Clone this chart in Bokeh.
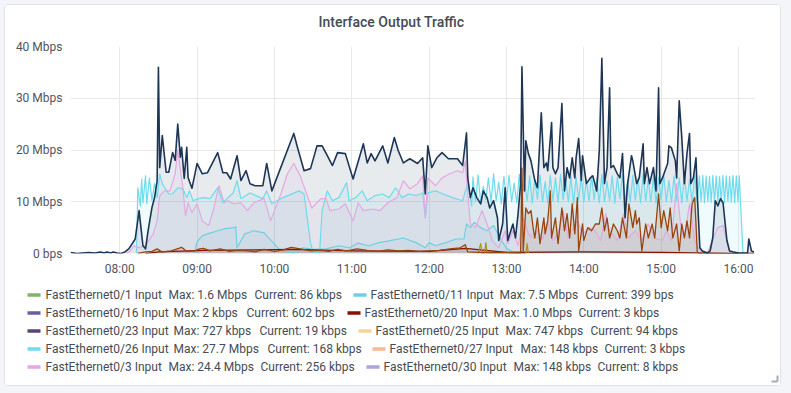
import pandas as pd
from bokeh.plotting import figure
from bokeh.models import (Range1d, FixedTicker, DatetimeTickFormatter, ColumnDataSource,
                          GlobalInlineStyleSheet)
from bokeh.layouts import column
from bokeh.core.properties import value
from bokeh.embed import file_html
from bokeh.resources import INLINE

# ---------------- data ----------------
DAY = "2024-05-06 "
TITLE = "Interface Output Traffic"
HOUR_TICKS = ["08:00", "09:00", "10:00", "11:00", "12:00", "13:00", "14:00", "15:00", "16:00"]
Y_TICKS = [0, 10, 20, 30, 40]
Y_TICK_LABELS = ["0 bps", "10 Mbps", "20 Mbps", "30 Mbps", "40 Mbps"]
X_START, X_END = "07:21:48", "16:12:24"

# dark navy series (total) - Mbps
NAVY = [("07:22", 0.2), ("07:27", 0.0), ("07:31", 0.1), ("07:36", 0.2), ("07:41", 0.1), ("07:45", 0.3),
        ("07:48", 0.1), ("07:50", 0.3), ("07:53", 0.1), ("07:55", 0.3), ("07:58", 0.1), ("08:01", 0.0),
        ("08:04", 0.3), ("08:07", 0.9), ("08:12", 2.8), ("08:15", 8.3), ("08:18", 1.5), ("08:20", 0.9),
        ("08:22", 4.4), ("08:25", 8.9), ("08:27", 10.8), ("08:29", 14.0), ("08:30", 36.0), ("08:31", 16.6),
        ("08:33", 22.8), ("08:36", 15.7), ("08:38", 15.7), ("08:41", 19.5), ("08:43", 18.0), ("08:45", 25.0),
        ("08:47", 18.6), ("08:48", 20.5), ("08:50", 14.5), ("08:52", 20.5), ("08:53", 14.7), ("08:56", 12.6),
        ("09:00", 17.4), ("09:04", 15.4), ("09:08", 15.6), ("09:16", 19.5), ("09:20", 15.6), ("09:23", 15.6),
        ("09:26", 14.4), ("09:31", 18.9), ("09:34", 14.1), ("09:38", 16.0), ("09:41", 13.5), ("09:45", 13.1),
        ("09:51", 13.1), ("09:54", 17.4), ("09:58", 12.1), ("10:15", 23.2), ("10:18", 20.4), ("10:23", 16.0),
        ("10:28", 16.4), ("10:33", 20.8), ("10:37", 20.8), ("10:41", 18.9), ("10:45", 17.0), ("10:49", 19.5),
        ("10:55", 19.3), ("11:01", 14.4), ("11:09", 21.2), ("11:12", 17.5), ("11:15", 19.3), ("11:18", 17.9),
        ("11:24", 20.8), ("11:28", 17.5), ("11:33", 22.4), ("11:36", 19.9), ("11:40", 17.5), ("11:45", 18.3),
        ("11:51", 17.4), ("11:55", 18.5), ("11:57", 11.5), ("11:59", 20.8), ("12:02", 16.6), ("12:06", 18.5),
        ("12:10", 19.5), ("12:15", 18.3), ("12:22", 18.3), ("12:26", 17.0), ("12:29", 23.3), ("12:30", 14.6),
        ("12:32", 10.8), ("12:34", 12.7), ("12:37", 10.8), ("12:40", 9.6), ("12:42", 12.1), ("12:45", 10.8),
        ("12:47", 8.8), ("12:50", 10.2), ("12:53", 6.9), ("12:54", 2.5), ("12:57", 5.7), ("12:59", 12.7),
        ("13:01", 2.5), ("13:05", 5.7), ("13:07", 3.0), ("13:09", 7.7), ("13:11", 13.5), ("13:12", 36.1),
        ("13:14", 12.1), ("13:15", 21.8), ("13:17", 19.3), ("13:19", 17.9), ("13:22", 14.1), ("13:24", 12.7),
        ("13:27", 27.2), ("13:29", 16.6), ("13:31", 17.5), ("13:32", 16.0), ("13:35", 25.3), ("13:36", 16.6),
        ("13:38", 15.4), ("13:40", 16.6), ("13:43", 29.0), ("13:45", 12.1), ("13:47", 16.6), ("13:49", 14.6),
        ("13:51", 18.5), ("13:53", 14.6), ("13:54", 18.5), ("13:56", 22.2), ("13:58", 14.1), ("13:59", 18.9),
        ("14:02", 13.5), ("14:05", 14.6), ("14:07", 15.0), ("14:10", 12.1), ("14:12", 19.9), ("14:14", 37.7),
        ("14:16", 13.5), ("14:18", 16.6), ("14:20", 32.0), ("14:21", 16.6), ("14:23", 17.0), ("14:26", 15.4),
        ("14:28", 14.6), ("14:30", 19.3), ("14:32", 6.9), ("14:34", 13.5), ("14:37", 18.9), ("14:38", 17.9),
        ("14:41", 13.5), ("14:43", 14.6), ("14:46", 21.2), ("14:47", 13.5), ("14:49", 16.6), ("14:51", 13.5),
        ("14:54", 16.6), ("14:56", 12.1), ("14:58", 32.0), ("14:59", 13.5), ("15:01", 14.6), ("15:05", 17.4),
        ("15:06", 20.8), ("15:08", 20.4), ("15:11", 17.9), ("15:12", 14.6), ("15:14", 29.5), ("15:16", 22.4),
        ("15:18", 13.5), ("15:20", 19.3), ("15:22", 23.2), ("15:23", 13.5), ("15:25", 14.6), ("15:27", 18.5),
        ("15:28", 11.5), ("15:30", 1.1), ("15:32", 0.5), ("15:36", 0.1), ("15:38", 0.5), ("15:40", 3.0),
        ("15:42", 10.2), ("15:44", 9.2), ("15:46", 10.6), ("15:48", 9.8), ("15:51", 2.5), ("15:53", 0.5),
        ("15:56", 0.3), ("16:00", 0.1), ("16:07", 0.1), ("16:08", 2.8), ("16:10", 0.5), ("16:12", 0.3)]

# FastEthernet0/3 (pink)
PINK = [("08:05", 0.0), ("08:08", 0.5), ("08:11", 1.5), ("08:14", 1.1), ("08:20", 1.5), ("08:26", 3.8),
        ("08:29", 6.3), ("08:31", 11.2), ("08:35", 12.1), ("08:39", 12.1), ("08:43", 15.4), ("08:45", 20.0),
        ("08:49", 12.5), ("08:51", 7.3), ("08:53", 9.8), ("08:56", 7.9), ("09:00", 9.6), ("09:04", 6.3),
        ("09:09", 5.4), ("09:13", 8.8), ("09:17", 13.1), ("09:21", 9.8), ("09:24", 10.2), ("09:28", 9.6),
        ("09:34", 9.8), ("09:39", 8.3), ("09:44", 9.8), ("09:52", 10.6), ("09:57", 6.3), ("10:05", 11.5),
        ("10:10", 15.4), ("10:15", 17.4), ("10:20", 15.0), ("10:26", 10.8), ("10:29", 8.8), ("10:36", 10.6),
        ("10:40", 10.6), ("10:43", 8.3), ("10:50", 8.6), ("10:55", 9.6), ("11:01", 6.3), ("11:05", 9.8),
        ("11:09", 8.3), ("11:16", 8.6), ("11:22", 8.3), ("11:28", 9.8), ("11:35", 10.8), ("11:40", 14.1),
        ("11:45", 12.5), ("11:51", 13.5), ("11:55", 15.0), ("11:57", 6.9), ("11:59", 14.6), ("12:05", 13.1),
        ("12:10", 14.6), ("12:16", 15.4), ("12:22", 16.0), ("12:26", 15.6), ("12:28", 17.9), ("12:30", 11.5),
        ("12:32", 5.7), ("12:36", 5.0), ("12:41", 8.3), ("12:45", 5.7), ("12:49", 2.5), ("12:54", 1.1),
        ("12:59", 4.4), ("13:01", 1.9), ("13:05", 4.4), ("13:09", 1.5), ("13:13", 6.9), ("13:17", 3.8),
        ("13:21", 3.0), ("13:24", 4.4), ("13:28", 2.8), ("13:32", 6.3), ("13:36", 2.5), ("13:40", 3.8),
        ("13:44", 8.3), ("13:48", 3.0), ("13:51", 4.4), ("13:55", 6.3), ("13:59", 3.8), ("14:05", 5.0),
        ("14:09", 4.4), ("14:13", 2.5), ("14:17", 7.7), ("14:20", 4.4), ("14:26", 2.5), ("14:31", 7.7),
        ("14:34", 3.0), ("14:40", 4.4), ("14:45", 2.5), ("14:50", 5.7), ("14:55", 3.0), ("15:01", 2.5),
        ("15:04", 4.4), ("15:08", 2.5), ("15:12", 13.5), ("15:15", 5.7), ("15:18", 3.0), ("15:22", 9.6),
        ("15:26", 2.5), ("15:30", 0.5), ("15:36", 0.1), ("15:40", 2.8), ("15:44", 5.0), ("15:48", 5.4),
        ("15:51", 2.5), ("15:53", 0.5), ("16:00", 0.1), ("16:12", 0.1)]

# FastEthernet0/26 (cyan, oscillating)
CYAN26 = [("08:13", 0.0), ("08:14", 12.7), ("08:16", 9.2), ("08:17", 14.4), ("08:18", 9.8), ("08:20", 15.0),
          ("08:21", 9.6), ("08:23", 14.6), ("08:25", 10.2), ("08:27", 13.5), ("08:29", 10.8), ("08:31", 15.4),
          ("08:33", 13.5), ("08:35", 12.7), ("08:38", 11.5), ("08:41", 11.5), ("08:45", 12.7), ("08:49", 12.5),
          ("08:52", 10.8), ("08:54", 12.1), ("08:57", 10.2), ("09:01", 10.6), ("09:05", 10.8), ("09:10", 10.6),
          ("09:16", 12.7), ("09:20", 9.8), ("09:24", 10.8), ("09:28", 11.7), ("09:31", 14.1), ("09:34", 10.6),
          ("09:41", 11.7), ("09:51", 10.6), ("09:54", 12.1), ("09:58", 9.6), ("10:05", 10.6), ("10:19", 12.1),
          ("10:23", 11.5), ("10:28", 2.0), ("10:30", 0.3), ("10:35", 0.1), ("10:37", 8.3), ("10:41", 12.1),
          ("10:45", 10.2), ("10:50", 10.8), ("10:56", 13.7), ("10:58", 10.2), ("11:03", 10.8), ("11:08", 12.1),
          ("11:12", 10.2), ("11:18", 11.2), ("11:24", 11.5), ("11:29", 10.8), ("11:34", 12.7), ("11:39", 10.8),
          ("11:44", 11.5), ("11:50", 11.2), ("11:55", 11.7), ("11:57", 6.9), ("11:59", 11.7), ("12:05", 12.1),
          ("12:11", 11.5), ("12:18", 10.8), ("12:26", 10.2), ("12:30", 13.7), ("12:33", 9.2),
          ("12:34", 14.8), ("12:36", 10.0), ("12:38", 15.2), ("12:40", 9.8), ("12:42", 13.0), ("12:44", 10.4),
          ("12:46", 14.6), ("12:48", 9.9), ("12:50", 15.4), ("12:52", 10.2), ("12:54", 13.8), ("12:56", 9.6),
          ("12:58", 14.9), ("13:00", 10.3), ("13:02", 15.1), ("13:04", 10.0), ("13:06", 13.6), ("13:08", 9.8),
          ("13:10", 15.3), ("13:12", 10.6), ("13:14", 14.2), ("13:16", 10.1), ("13:18", 15.0), ("13:20", 9.7),
          ("13:22", 14.4), ("13:24", 10.5), ("13:26", 15.2), ("13:28", 10.0), ("13:30", 13.9), ("13:32", 9.8),
          ("13:34", 15.1), ("13:36", 10.2), ("13:38", 14.6), ("13:40", 9.9), ("13:42", 15.3), ("13:44", 10.4),
          ("13:46", 14.1), ("13:48", 10.0), ("13:50", 15.0), ("13:52", 9.6), ("13:54", 14.7), ("13:56", 10.3),
          ("13:58", 15.2), ("14:00", 9.9), ("14:02", 14.3), ("14:04", 10.1), ("14:06", 15.1), ("14:08", 10.4),
          ("14:10", 14.5), ("14:12", 9.8), ("14:14", 15.3), ("14:16", 10.0), ("14:18", 14.0), ("14:20", 10.2),
          ("14:22", 15.0), ("14:24", 9.7), ("14:26", 14.8), ("14:28", 10.5), ("14:30", 15.2), ("14:32", 10.0),
          ("14:34", 14.2), ("14:36", 9.9), ("14:38", 15.1), ("14:40", 10.3), ("14:42", 14.6), ("14:44", 9.8),
          ("14:46", 15.3), ("14:48", 10.1), ("14:50", 14.4), ("14:52", 10.0), ("14:54", 15.0), ("14:56", 9.7),
          ("14:58", 14.7), ("15:00", 10.4), ("15:02", 15.2), ("15:04", 10.0), ("15:06", 14.1), ("15:08", 9.9),
          ("15:10", 15.0), ("15:12", 10.2), ("15:14", 14.6), ("15:16", 9.8), ("15:18", 15.3), ("15:20", 10.1),
          ("15:22", 14.3), ("15:24", 10.0), ("15:26", 15.1), ("15:28", 9.9), ("15:29:40", 15.0),
          ("15:31:00", 9.9), ("15:32:18", 15.1), ("15:33:36", 9.8), ("15:34:54", 15.0), ("15:36:12", 10.0),
          ("15:37:30", 14.9), ("15:38:48", 9.9), ("15:40:06", 15.1), ("15:41:24", 9.8), ("15:42:42", 15.0),
          ("15:44:00", 10.0), ("15:45:18", 14.9), ("15:46:36", 9.9), ("15:47:54", 15.1), ("15:49:12", 9.8),
          ("15:50:30", 15.0), ("15:51:48", 10.0), ("15:53:06", 14.9), ("15:54:24", 9.9), ("15:55:42", 15.1),
          ("15:57:00", 9.8), ("15:58:18", 15.0), ("15:59:36", 10.0), ("16:00:36", 15.0), ("16:01:30", 10.0),
          ("16:03:30", 0.0)]

# FastEthernet0/11 (light blue, lower)
CYAN11 = [("08:58", 0.1), ("09:00", 2.3), ("09:04", 3.4), ("09:08", 3.8), ("09:16", 4.4), ("09:22", 4.8),
          ("09:29", 5.0), ("09:30", 5.2), ("09:31", 1.1), ("09:37", 3.8), ("09:44", 4.4), ("09:52", 4.0),
          ("09:59", 2.1), ("10:05", 0.5), ("10:15", 0.1), ("10:18", 0.3), ("10:22", 1.1), ("10:30", 0.8),
          ("10:40", 0.9), ("10:50", 1.5), ("10:58", 1.1), ("11:05", 2.0), ("11:13", 1.5), ("11:21", 2.1),
          ("11:30", 2.5), ("11:40", 3.0), ("11:50", 2.1), ("11:57", 1.1), ("12:00", 2.1), ("12:05", 1.5),
          ("12:13", 2.1), ("12:21", 2.8), ("12:27", 2.8), ("12:29", 5.7), ("12:32", 5.0), ("12:35", 6.0),
          ("12:40", 5.0), ("12:45", 4.4), ("12:50", 5.4), ("12:55", 3.0), ("13:00", 1.0), ("13:05", 0.3),
          ("13:30", 0.2), ("14:30", 0.2), ("15:30", 0.1)]

# brown series
BROWN = [("08:14", 0.0), ("08:20", 0.3), ("08:25", 0.4), ("08:29", 0.9), ("08:33", 0.3), ("08:40", 0.5),
         ("08:48", 1.2), ("08:52", 0.4), ("08:58", 0.5), ("09:02", 0.9), ("09:05", 1.0), ("09:10", 0.5),
         ("09:18", 0.9), ("09:25", 0.4), ("09:32", 0.6), ("09:39", 0.5), ("09:45", 0.3), ("09:52", 0.8),
         ("10:00", 0.4), ("10:07", 0.7), ("10:13", 1.2), ("10:20", 0.9), ("10:28", 0.5), ("10:36", 0.6),
         ("10:42", 0.4), ("10:49", 0.8), ("10:56", 0.5), ("11:04", 0.9), ("11:12", 0.6), ("11:20", 0.4),
         ("11:28", 0.7), ("11:36", 0.5), ("11:44", 0.6), ("11:52", 0.4), ("12:00", 0.5), ("12:08", 0.6),
         ("12:16", 0.9), ("12:24", 1.1), ("12:28", 1.7), ("12:30", 0.3), ("12:40", 0.2), ("12:50", 0.2),
         ("13:00", 0.2), ("13:11", 0.1), ("13:12", 16.5), ("13:13", 0.5), ("13:15", 8.8), ("13:17", 7.7),
         ("13:19", 8.3), ("13:21", 4.4), ("13:22", 3.0), ("13:24", 6.9), ("13:26", 1.9), ("13:29", 6.9),
         ("13:30", 3.8), ("13:32", 6.3), ("13:34", 12.1), ("13:35", 3.0), ("13:38", 6.9), ("13:40", 1.9),
         ("13:43", 8.8), ("13:45", 4.4), ("13:47", 7.7), ("13:49", 3.0), ("13:51", 9.6), ("13:53", 3.8),
         ("13:55", 10.8), ("13:56", 0.5), ("13:59", 5.7), ("14:00", 2.5), ("14:03", 5.0), ("14:06", 4.4),
         ("14:09", 5.7), ("14:12", 5.7), ("14:14", 8.8), ("14:16", 4.4), ("14:18", 6.9), ("14:20", 3.0),
         ("14:23", 5.7), ("14:26", 4.4), ("14:28", 3.0), ("14:30", 6.9), ("14:33", 3.0), ("14:35", 9.6),
         ("14:38", 5.0), ("14:40", 8.3), ("14:41", 5.7), ("14:43", 6.9), ("14:45", 0.5), ("14:48", 5.7),
         ("14:50", 3.0), ("14:53", 5.7), ("14:55", 3.0), ("14:58", 11.5), ("15:00", 5.0), ("15:02", 8.3),
         ("15:05", 4.4), ("15:07", 8.8), ("15:09", 3.0), ("15:12", 5.7), ("15:14", 0.5), ("15:16", 5.7),
         ("15:18", 3.0), ("15:20", 6.3), ("15:22", 3.0), ("15:24", 9.6), ("15:26", 10.8), ("15:27", 5.7),
         ("15:28", 0.3), ("15:30", 0.0), ("16:12", 0.0)]

# FastEthernet0/20 (dark red, near zero)
DARKRED = [("08:20", 0.0), ("08:30", 0.3), ("09:05", 0.6), ("10:15", 0.8), ("11:00", 0.5), ("12:00", 0.4),
           ("12:28", 1.0), ("13:00", 0.2), ("14:00", 0.3), ("15:00", 0.2), ("16:00", 0.0)]

# olive spikes
OLIVE = [("12:38", 0.0), ("12:40", 1.9), ("12:41", 0.0), ("12:43", 0.0), ("12:44", 2.1), ("12:45", 0.0),
         ("13:15", 0.0), ("13:16", 1.9), ("13:17", 0.0)]

# legend
LEGEND_NAMES = ["FastEthernet0/1 Input", "FastEthernet0/11 Input", "FastEthernet0/16 Input",
                "FastEthernet0/20 Input", "FastEthernet0/23 Input", "FastEthernet0/25 Input",
                "FastEthernet0/26 Input", "FastEthernet0/27 Input", "FastEthernet0/3 Input",
                "FastEthernet0/30 Input"]
LEGEND_MAX = ["1.6 Mbps", "7.5 Mbps", "2 kbps", "1.0 Mbps", "727 kbps", "747 kbps",
              "27.7 Mbps", "148 kbps", "24.4 Mbps", "148 kbps"]
LEGEND_CUR = ["86 kbps", "399 bps", "602 bps", "3 kbps", "19 kbps", "94 kbps",
              "168 kbps", "3 kbps", "256 kbps", "8 kbps"]
LEGEND_COLORS = ["#7EB26D", "#6ED0E0", "#705DA0", "#890F02", "#584477", "#F4D598",
                 "#70DBED", "#F9BA8F", "#E5A8E2", "#AEA2E0"]

# ---------------- layout / style ----------------
TEXT = "#464c54"
TICK = "#52545c"
GRID = "#e7e8ea"
FONT = value("Roboto")
W = 775


def ts(t):
    return pd.to_datetime(DAY + t)


def series_source(pairs):
    return ColumnDataSource(dict(x=[ts(t) for t, _ in pairs], y=[v for _, v in pairs],
                                 y0=[0.0] * len(pairs)))


def blank(height, y_top_down):
    f = figure(width=W, height=height, x_range=Range1d(0, W), y_range=Range1d(y_top_down, 0),
               output_backend="svg", toolbar_location=None, min_border=0,
               min_border_left=0, min_border_right=0, min_border_top=0, min_border_bottom=0,
               x_axis_location=None, y_axis_location=None, frame_align=False)
    f.grid.visible = False
    f.outline_line_color = None
    f.background_fill_color = "white"
    f.border_fill_color = "white"
    return f


# header
head = blank(33, 33)
head.text(x=[386], y=[16], text=[TITLE], text_font=value("Roboto Medium, Roboto"),
          text_font_size="14px", text_color=TEXT, text_align="center", text_baseline="middle")

# main chart
p = figure(width=W, height=247, x_axis_type="datetime",
           x_range=Range1d(ts(X_START), ts(X_END)), y_range=Range1d(0, 40),
           output_backend="svg", toolbar_location=None, frame_align=False,
           min_border_left=65, min_border_right=26, min_border_top=8, min_border_bottom=32)
p.background_fill_color = "white"
p.border_fill_color = "white"
p.outline_line_color = None

hour_ms = [ts(h).value / 1e6 for h in HOUR_TICKS]
p.xaxis.ticker = FixedTicker(ticks=hour_ms)
p.xaxis.formatter = DatetimeTickFormatter(hours="%H:%M", hourmin="%H:%M", minutes="%H:%M",
                                          days="%H:%M", minsec="%H:%M")
p.yaxis.ticker = FixedTicker(ticks=Y_TICKS)
p.yaxis.major_label_overrides = {t: l for t, l in zip(Y_TICKS, Y_TICK_LABELS)}
for ax in (p.xaxis[0], p.yaxis[0]):
    ax.axis_line_color = None
    ax.major_tick_line_color = None
    ax.minor_tick_line_color = None
    ax.major_tick_in = 0
    ax.major_tick_out = 0
    ax.major_label_text_font = "Roboto"
    ax.major_label_text_font_size = "12px"
    ax.major_label_text_color = TICK
    ax.major_label_standoff = 8
p.xgrid.grid_line_color = GRID
p.ygrid.grid_line_color = GRID

series = [
    (CYAN11, "#6ED0E0", 1.2),
    (CYAN26, "#70DBED", 1.2),
    (PINK, "#E5A8E2", 1.2),
    (DARKRED, "#890F02", 1.2),
    (OLIVE, "#B09020", 1.2),
    (BROWN, "#99440A", 1.3),
    (NAVY, "#1E3656", 1.6),
]
sources = [(series_source(d), c, w) for d, c, w in series]
for src, c, w in sources:
    p.varea(x="x", y1="y0", y2="y", source=src, fill_color=c, fill_alpha=0.1)
for src, c, w in sources:
    p.line(x="x", y="y", source=src, line_color=c, line_width=w, line_join="round")

# legend
leg = blank(100, 100)
ROW_MID = [9.5, 27.5, 45.5, 63.5, 81.5]
SW_X = [22, 348, 22, 342, 22, 353, 22, 367, 22, 361]
NAME_X = [40, 365, 40, 359, 40, 370, 40, 384, 40, 378]
MAX_X = [163, 494, 168, 488, 168, 500, 168, 515, 163, 508]
CUR_X = [249, 580, 241, 573, 254, 585, 262, 599, 255, 592]

rows = [ROW_MID[i // 2] for i in range(len(LEGEND_NAMES))]
leg.segment(x0=SW_X, x1=[x + 13 for x in SW_X], y0=rows, y1=rows,
            line_color=LEGEND_COLORS, line_width=3.5)
tx, ty, tt = [], [], []
for i, name in enumerate(LEGEND_NAMES):
    tx += [NAME_X[i], MAX_X[i], CUR_X[i]]
    ty += [rows[i]] * 3
    tt += [name, "Max: " + LEGEND_MAX[i], "Current: " + LEGEND_CUR[i]]
leg.text(x=tx, y=ty, text=tt, text_font=FONT, text_font_size="12px", text_color=TEXT,
         text_align="left", text_baseline="middle")

# panel resize handle (decoration, bottom-right corner)
leg.multi_line(xs=[[766, 772], [772, 772]], ys=[[96, 96], [90, 96]],
               line_color="#a3abb3", line_width=2)

layout = column(head, p, leg,
                styles={"margin-left": "5px", "margin-top": "5px",
                        "outline": "1px solid #dfe3e8", "border-radius": "3px",
                        "background-color": "white"},
                stylesheets=[GlobalInlineStyleSheet(css="body { background: #f4f5f8; }")])

open("out.html", "w").write(file_html(layout, INLINE))
